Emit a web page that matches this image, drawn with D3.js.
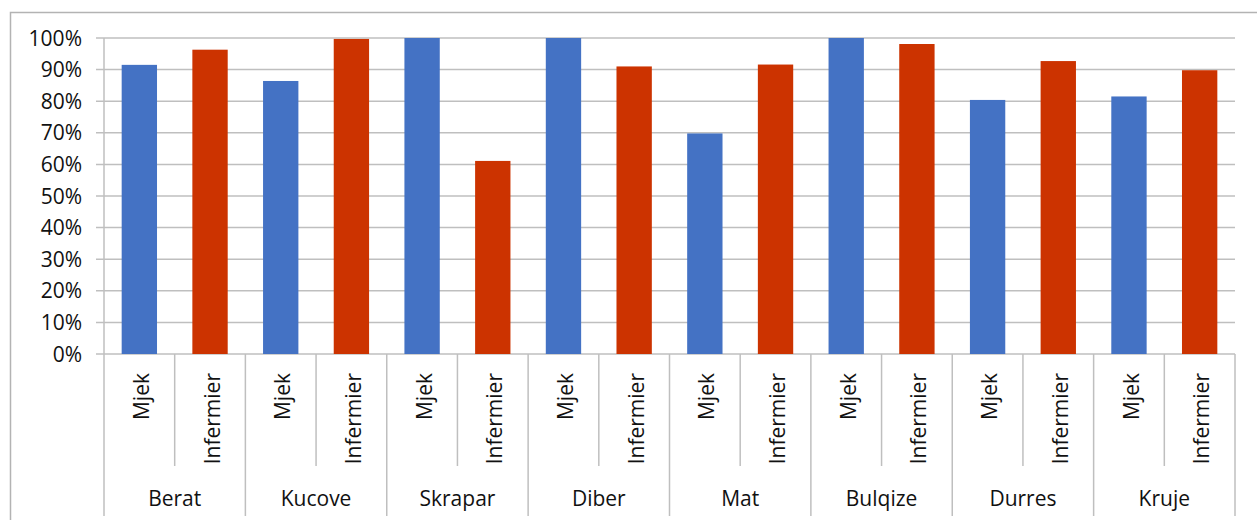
<!DOCTYPE html>
<html>
<head>
<meta charset="utf-8">
<script src="https://cdn.jsdelivr.net/npm/d3@7"></script>
<style>
  body { margin: 0; background: #fff; }
  svg text { font-family: 'Open Sans', sans-serif; fill: #111; }
</style>
</head>
<body>
<div id="chart"></div>
<script>
// districts and the two staff groups
var districts = ["Berat", "Kucove", "Skrapar", "Diber", "Mat", "Bulqize", "Durres", "Kruje"];
var staff = ["Mjek", "Infermier"];
var mjekValues = [0.915, 0.864, 1.0, 1.0, 0.698, 1.0, 0.804, 0.815];
var infermierValues = [0.963, 0.997, 0.611, 0.910, 0.916, 0.981, 0.927, 0.898];
var yTicks = [0, 0.1, 0.2, 0.3, 0.4, 0.5, 0.6, 0.7, 0.8, 0.9, 1.0];

var colors = { "Mjek": "#4472C4", "Infermier": "#CC3300" };

var width = 1257, height = 520;
var plotLeft = 104, plotRight = 1235, plotTop = 38, plotBottom = 354;

// flatten into one bar per district/staff
var bars = [];
districts.forEach(function(d, i) {
    bars.push({ district: d, staff: "Mjek", value: mjekValues[i], key: d + "|Mjek" });
    bars.push({ district: d, staff: "Infermier", value: infermierValues[i], key: d + "|Infermier" });
});

var svg = d3.select("#chart").append("svg")
    .attr("width", width)
    .attr("height", height);

// chart border
svg.append("rect")
    .attr("x", 10.5)
    .attr("y", 12.5)
    .attr("width", 1260)
    .attr("height", 520)
    .style("fill", "none")
    .style("stroke", "#b3b3b3")
    .style("stroke-width", 1.5);

var x = d3.scaleBand()
    .domain(bars.map(function(d) { return d.key; }))
    .range([plotLeft, plotRight])
    .paddingInner(0.5)
    .paddingOuter(0.25);

var xGroup = d3.scaleBand()
    .domain(districts)
    .range([plotLeft, plotRight]);

var y = d3.scaleLinear()
    .domain([0, 1])
    .range([plotBottom, plotTop]);

// gridlines
svg.append("g")
    .selectAll("line")
    .data(yTicks)
    .enter().append("line")
    .attr("x1", plotLeft - 8)
    .attr("x2", plotRight)
    .attr("y1", function(d) { return y(d); })
    .attr("y2", function(d) { return y(d); })
    .style("stroke", "#bfbfbf")
    .style("stroke-width", 1.5);

// y axis line
svg.append("line")
    .attr("x1", plotLeft).attr("x2", plotLeft)
    .attr("y1", plotTop).attr("y2", plotBottom)
    .style("stroke", "#bfbfbf")
    .style("stroke-width", 1.5);

// y tick labels
svg.append("g")
    .selectAll("text")
    .data(yTicks)
    .enter().append("text")
    .attr("x", 82)
    .attr("y", function(d) { return y(d); })
    .attr("dy", "0.36em")
    .style("text-anchor", "end")
    .style("font-size", "21px")
    .text(function(d) { return d3.format(".0%")(d); });

// bars
svg.append("g")
    .selectAll("rect")
    .data(bars)
    .enter().append("rect")
    .attr("x", function(d) { return x(d.key); })
    .attr("y", function(d) { return y(d.value); })
    .attr("width", x.bandwidth())
    .attr("height", function(d) { return y(0) - y(d.value); })
    .style("fill", function(d) { return colors[d.staff]; });

// category dividers: short between staff, long between districts
var step = x.step();
svg.append("g")
    .selectAll("line")
    .data(d3.range(bars.length + 1))
    .enter().append("line")
    .attr("x1", function(i) { return plotLeft + i * step; })
    .attr("x2", function(i) { return plotLeft + i * step; })
    .attr("y1", plotBottom)
    .attr("y2", function(i) { return i % 2 === 0 ? 516 : 466; })
    .style("stroke", "#bfbfbf")
    .style("stroke-width", 1.5);

// staff labels, rotated
svg.append("g")
    .selectAll("text")
    .data(bars)
    .enter().append("text")
    .attr("transform", function(d) {
        return "translate(" + (x(d.key) + x.bandwidth() / 2 + 2) + "," + 373 + ") rotate(-90)";
    })
    .attr("dy", "0.36em")
    .style("text-anchor", "end")
    .style("font-size", "21px")
    .text(function(d) { return d.staff; });

// district labels
svg.append("g")
    .selectAll("text")
    .data(districts)
    .enter().append("text")
    .attr("x", function(d) { return xGroup(d) + xGroup.bandwidth() / 2; })
    .attr("y", 506)
    .style("text-anchor", "middle")
    .style("font-size", "21px")
    .text(function(d) { return d; });
</script>
</body>
</html>
